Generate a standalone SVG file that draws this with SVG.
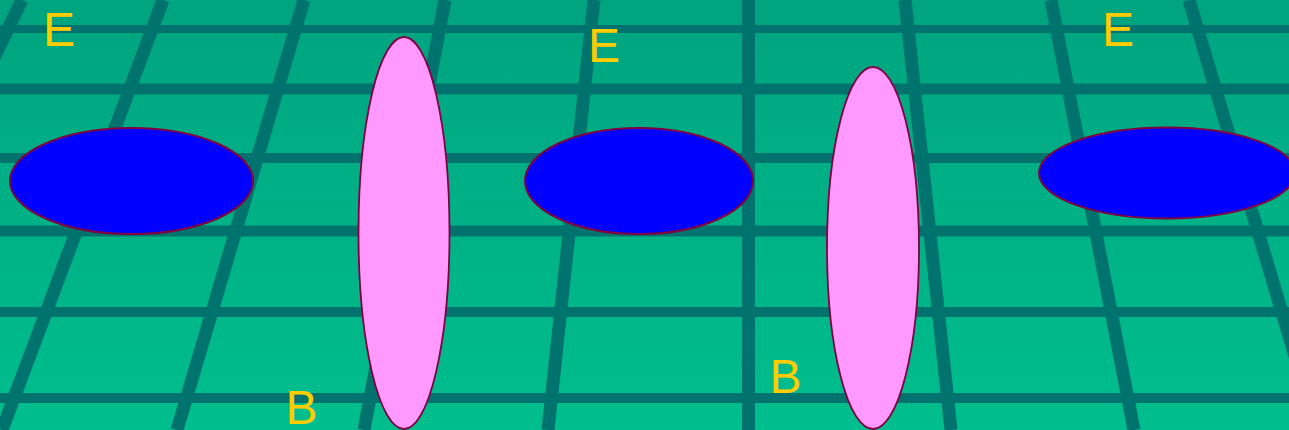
<svg xmlns="http://www.w3.org/2000/svg" width="1289" height="430" viewBox="0 0 1289 430">
  <defs>
    <linearGradient id="bg" x1="0" y1="0" x2="0" y2="1">
      <stop offset="0" stop-color="#00A47F"/>
      <stop offset="1" stop-color="#00BE8D"/>
    </linearGradient>
  </defs>
  <style>
    .grid line { stroke: #00736E; stroke-width: 13; }
    .grid line.h { stroke-width: 10; }
    .blue { fill: #0000FF; stroke: #800040; stroke-width: 2; }
    .pink { fill: #FF99FF; stroke: #800040; stroke-width: 1.8; }
    .lbl { font-family: "Liberation Sans", Arial, sans-serif; font-size: 48px; fill: #FFCC00; }
  </style>
  <rect id="background" x="0" y="0" width="1289" height="430" fill="url(#bg)"/>
  <g id="grid" class="grid">
    <line class="h" x1="0" y1="29" x2="1289" y2="29" style="stroke-width:8"/>
    <line class="h" x1="0" y1="89" x2="1289" y2="89" style="stroke-width:11"/>
    <line class="h" x1="0" y1="158" x2="1289" y2="158"/>
    <line class="h" x1="0" y1="231" x2="1289" y2="231" style="stroke-width:11"/>
    <line class="h" x1="0" y1="312" x2="1289" y2="312"/>
    <line class="h" x1="0" y1="398" x2="1289" y2="398"/>
    <line x1="22" y1="0" x2="-186" y2="430"/>
    <line x1="163" y1="0" x2="2" y2="430"/>
    <line x1="304" y1="0" x2="177" y2="430"/>
    <line x1="445" y1="0" x2="364" y2="430"/>
    <line x1="594" y1="0" x2="548" y2="430"/>
    <line x1="748.5" y1="0" x2="748.5" y2="430"/>
    <line x1="905" y1="0" x2="951" y2="430"/>
    <line x1="1051" y1="0" x2="1134" y2="430"/>
    <line x1="1189" y1="0" x2="1317" y2="430"/>
  </g>
  <g id="node-blue-1"><ellipse class="blue" cx="131.5" cy="181" rx="121.5" ry="53"/></g>
  <g id="node-pink-1"><ellipse class="pink" cx="404" cy="233" rx="45.5" ry="196"/></g>
  <g id="node-blue-2"><ellipse class="blue" cx="639" cy="181" rx="114" ry="53"/></g>
  <g id="node-pink-2"><ellipse class="pink" cx="873" cy="248" rx="46" ry="181"/></g>
  <g id="node-blue-3"><ellipse class="blue" cx="1167" cy="173" rx="128" ry="45.5"/></g>
  <g id="labels">
    <text class="lbl" x="43" y="46">E</text>
    <text class="lbl" x="588" y="62">E</text>
    <text class="lbl" x="1102" y="46">E</text>
    <text class="lbl" x="285.5" y="424">B</text>
    <text class="lbl" x="769.5" y="393">B</text>
  </g>
</svg>
